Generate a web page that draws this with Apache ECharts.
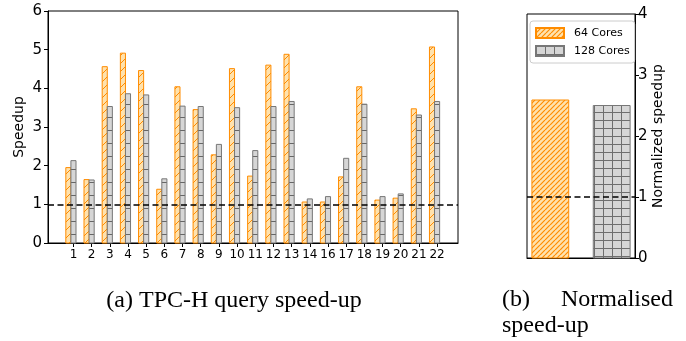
<!DOCTYPE html>
<html>
<head>
<meta charset="utf-8">
<script src="https://cdn.jsdelivr.net/npm/echarts@6/dist/echarts.min.js"></script>
<style>
  html, body { margin: 0; padding: 0; background: #fff; }
  #chart { width: 686px; height: 341px; }
</style>
</head>
<body>
<div id="chart"></div>
<script>
// TPC-H query numbers (query 15 is not reported)
const queries = ['1', '2', '3', '4', '5', '6', '7', '8', '9', '10', '11',
                 '12', '13', '14', '16', '17', '18', '19', '20', '21', '22'];
// Per-query speedup
const speedup64 = [1.95, 1.64, 4.56, 4.91, 4.46, 1.39, 4.04, 3.45, 2.28, 4.51, 1.73,
                   4.60, 4.88, 1.06, 1.06, 1.71, 4.04, 1.11, 1.16, 3.47, 5.07];
const speedup128 = [2.13, 1.63, 3.53, 3.86, 3.83, 1.66, 3.54, 3.53, 2.55, 3.50, 2.39,
                    3.53, 3.66, 1.14, 1.20, 2.19, 3.59, 1.20, 1.27, 3.31, 3.66];
// Overall normalised speedup
const configs = ['64 Cores', '128 Cores'];
const normalized = [2.59, 2.50];
const baseline = 1;

const SANS = '"DejaVu Sans", "Liberation Sans", sans-serif';
const SERIF = '"Liberation Serif", "DejaVu Serif", serif';

// Hatch fills built on small canvases and tiled by zrender
function diagonalHatch(bg, fg, period, lw) {
  const c = document.createElement('canvas');
  c.width = c.height = period;
  const g = c.getContext('2d');
  g.fillStyle = bg; g.fillRect(0, 0, period, period);
  g.strokeStyle = fg; g.lineWidth = lw;
  g.beginPath();
  [-period, 0, period].forEach(k => { g.moveTo(k, period); g.lineTo(k + period, 0); });
  g.stroke();
  return { image: c, repeat: 'repeat' };
}
function gridHatch(bg, fg, cw, ch, lw, withVertical) {
  const c = document.createElement('canvas');
  c.width = cw; c.height = ch;
  const g = c.getContext('2d');
  g.fillStyle = bg; g.fillRect(0, 0, cw, ch);
  g.strokeStyle = fg; g.lineWidth = lw;
  g.beginPath();
  g.moveTo(0, 0.5); g.lineTo(cw, 0.5);
  if (withVertical) { g.moveTo(0.5, 0); g.lineTo(0.5, ch); }
  g.stroke();
  return { image: c, repeat: 'repeat' };
}

const ORANGE_EDGE = '#ff8c00';
const ORANGE_BG = '#ffe2ad';
const GREY_EDGE = '#777777';
const GREY_BG = '#d6d6d6';

const orangeWide = diagonalHatch(ORANGE_BG, ORANGE_EDGE, 8, 1);
const orangeDense = diagonalHatch(ORANGE_BG, ORANGE_EDGE, 5, 1.2);
const greyRungs = gridHatch(GREY_BG, '#666666', 13, 13, 1, false);
const greyGrid = gridHatch(GREY_BG, '#6e6e6e', 9, 8, 1, true);

// Bars placed through the axes: offset and width are in x-axis units
function barRenderer(offset, width, fill, stroke) {
  return function (params, api) {
    const x = api.value(0), y = api.value(1);
    const top = api.coord([x + offset - width / 2, y]);
    const bottom = api.coord([x + offset + width / 2, 0]);
    return {
      type: 'rect',
      shape: { x: top[0], y: top[1], width: bottom[0] - top[0], height: bottom[1] - top[1] },
      style: { fill: fill, stroke: stroke, lineWidth: 1 }
    };
  };
}

const dashed = { color: '#000', type: [6, 3.5], width: 1.5 };

const chart = echarts.init(document.getElementById('chart'), null, { renderer: 'canvas' });
chart.setOption({
  animation: false,
  backgroundColor: '#fff',
  grid: [
    { left: 48, top: 11, width: 410, height: 232, containLabel: false,
      show: true, borderColor: '#000', borderWidth: 1, backgroundColor: 'transparent' },
    { left: 527, top: 14, width: 108, height: 244, containLabel: false,
      show: true, borderColor: '#000', borderWidth: 1, backgroundColor: 'transparent' }
  ],
  xAxis: [
    { type: 'value', gridIndex: 0, min: -0.4, max: 22.15,
      axisLine: { onZero: false, lineStyle: { color: '#000' } },
      axisTick: { show: true, length: 4, customValues: queries.map((q, i) => i + 1), lineStyle: { color: '#000' } },
      axisLabel: { customValues: queries.map((q, i) => i + 1), formatter: v => queries[Math.round(v) - 1],
                   color: '#000', fontFamily: SANS, fontSize: 12, margin: 6 },
      splitLine: { show: false } },
    { type: 'value', gridIndex: 1, min: -0.38, max: 1.38,
      axisLine: { onZero: false, lineStyle: { color: '#000' } },
      axisTick: { show: false }, axisLabel: { show: false }, splitLine: { show: false } }
  ],
  yAxis: [
    { type: 'value', gridIndex: 0, min: 0, max: 6, interval: 1,
      name: 'Speedup', nameLocation: 'middle', nameGap: 22, nameMoveOverlap: false,
      nameTextStyle: { color: '#000', fontFamily: SANS, fontSize: 14 },
      axisLine: { show: true, onZero: false, lineStyle: { color: '#000' } },
      axisTick: { show: true, length: 4, lineStyle: { color: '#000' } },
      axisLabel: { color: '#000', fontFamily: SANS, fontSize: 15, margin: 6 },
      splitLine: { show: false } },
    { type: 'value', gridIndex: 1, position: 'right', min: 0, max: 4, interval: 1,
      name: 'Normalized speedup', nameLocation: 'middle', nameGap: 16, nameRotate: 90,
      nameTextStyle: { color: '#000', fontFamily: SANS, fontSize: 14 },
      axisLine: { show: true, onZero: false, lineStyle: { color: '#000' } },
      axisTick: { show: true, length: 4, lineStyle: { color: '#000' } },
      axisLabel: { color: '#000', fontFamily: SANS, fontSize: 15, margin: 3 },
      splitLine: { show: false } }
  ],
  legend: {
    data: configs,
    orient: 'vertical', left: 530, top: 21,
    padding: [6, 5, 6, 5], itemGap: 6, itemWidth: 28, itemHeight: 10,
    icon: 'rect',
    backgroundColor: '#fff', borderColor: '#cccccc', borderWidth: 1, borderRadius: 3,
    textStyle: { color: '#000', fontFamily: SANS, fontSize: 11, padding: [0, 0, 0, 5] },
    selectedMode: false
  },
  series: [
    { name: configs[0], type: 'custom', xAxisIndex: 1, yAxisIndex: 1,
      data: [[0, normalized[0]]], encode: { x: 0, y: 1 },
      itemStyle: { color: orangeDense, borderColor: ORANGE_EDGE, borderWidth: 1 },
      renderItem: barRenderer(0, 0.6, orangeDense, ORANGE_EDGE) },
    { name: configs[1], type: 'custom', xAxisIndex: 1, yAxisIndex: 1,
      data: [[1, normalized[1]]], encode: { x: 0, y: 1 },
      itemStyle: { color: greyGrid, borderColor: GREY_EDGE, borderWidth: 1 },
      renderItem: barRenderer(0, 0.6, greyGrid, GREY_EDGE) },
    { name: configs[0], type: 'custom', xAxisIndex: 0, yAxisIndex: 0,
      data: speedup64.map((v, i) => [i + 1, v]), encode: { x: 0, y: 1 },
      itemStyle: { color: orangeWide },
      renderItem: barRenderer(-0.28, 0.28, orangeWide, ORANGE_EDGE) },
    { name: configs[1], type: 'custom', xAxisIndex: 0, yAxisIndex: 0,
      data: speedup128.map((v, i) => [i + 1, v]), encode: { x: 0, y: 1 },
      itemStyle: { color: greyRungs },
      renderItem: barRenderer(0, 0.28, greyRungs, GREY_EDGE) },
    { name: 'baseline-left', type: 'line', xAxisIndex: 0, yAxisIndex: 0, data: [],
      markLine: { silent: true, symbol: 'none', label: { show: false }, lineStyle: dashed,
                  data: [{ yAxis: baseline }] } },
    { name: 'baseline-right', type: 'line', xAxisIndex: 1, yAxisIndex: 1, data: [],
      markLine: { silent: true, symbol: 'none', label: { show: false }, lineStyle: dashed,
                  data: [{ yAxis: baseline }] } }
  ],
  graphic: [
    { type: 'text', x: 234, y: 301,
      style: { text: '(a) TPC-H query speed-up', font: '24px ' + SERIF, fill: '#000',
               textAlign: 'center', textVerticalAlign: 'middle' } },
    { type: 'text', x: 502, y: 300,
      style: { text: '(b)', font: '24px ' + SERIF, fill: '#000', textAlign: 'left', textVerticalAlign: 'middle' } },
    { type: 'text', x: 673, y: 300,
      style: { text: 'Normalised', font: '24px ' + SERIF, fill: '#000', textAlign: 'right', textVerticalAlign: 'middle' } },
    { type: 'text', x: 502, y: 326,
      style: { text: 'speed-up', font: '24px ' + SERIF, fill: '#000', textAlign: 'left', textVerticalAlign: 'middle' } }
  ]
});
</script>
</body>
</html>
